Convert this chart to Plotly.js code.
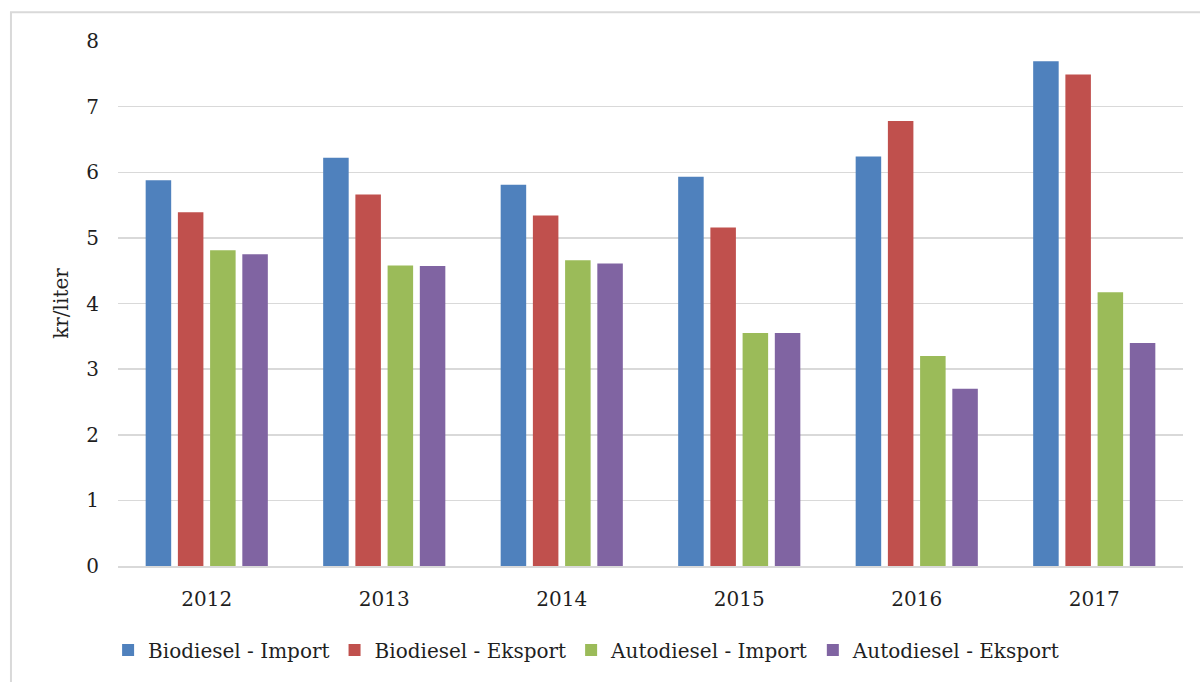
<!DOCTYPE html>
<html>
<head>
<meta charset="utf-8">
<script src="https://cdn.plot.ly/plotly-3.0.1.min.js"></script>
<style>html,body{margin:0;padding:0;background:#fff;}#chart{width:1200px;height:682px;}</style>
</head>
<body>
<div id="chart"></div>
<script>
const years = ['2012', '2013', '2014', '2015', '2016', '2017'];
const seriesNames = ['Biodiesel - Import', 'Biodiesel - Eksport', 'Autodiesel - Import', 'Autodiesel - Eksport'];
const biodieselImport = [5.88, 6.22, 5.81, 5.93, 6.24, 7.69];
const biodieselEksport = [5.39, 5.66, 5.34, 5.16, 6.78, 7.49];
const autodieselImport = [4.81, 4.58, 4.66, 3.55, 3.20, 4.17];
const autodieselEksport = [4.75, 4.57, 4.61, 3.55, 2.70, 3.40];
const colors = ['#4F81BD', '#C0504D', '#9BBB59', '#8064A2'];
const yTicks = [0, 1, 2, 3, 4, 5, 6, 7, 8];

const allSeries = [biodieselImport, biodieselEksport, autodieselImport, autodieselEksport];
const FONT = 'DejaVu Serif';
const data = allSeries.map((vals, i) => ({
  type: 'bar',
  name: seriesNames[i],
  x: years,
  y: vals,
  marker: {color: colors[i], line: {width: 0}},
  hoverinfo: 'x+y+name'
}));

const layout = {
  width: 1200, height: 682,
  margin: {l: 118, r: 17, t: 41, b: 114},
  paper_bgcolor: '#ffffff',
  plot_bgcolor: '#ffffff',
  font: {family: FONT, size: 20, color: '#1f1f1f'},
  barmode: 'group',
  bargap: 0.274,
  bargroupgap: 0.208,
  showlegend: true,
  legend: {
    orientation: 'h',
    x: 0.44, xanchor: 'center',
    y: -0.16, yanchor: 'middle',
    font: {family: FONT, size: 20, color: '#1f1f1f'},
    bgcolor: 'rgba(0,0,0,0)'
  },
  xaxis: {
    type: 'category',
    showgrid: false,
    showline: true, linecolor: '#d9d9d9', linewidth: 1.5,
    ticks: '',
    ticklabelstandoff: 14,
    tickfont: {family: FONT, size: 20, color: '#1f1f1f'},
    zeroline: false
  },
  yaxis: {
    range: [0, 8],
    tickvals: yTicks,
    ticktext: yTicks.map(String),
    showgrid: true, gridcolor: '#d9d9d9', gridwidth: 1.5,
    zeroline: false,
    showline: false,
    ticks: '',
    ticklabelstandoff: 18,
    tickfont: {family: FONT, size: 20, color: '#1f1f1f'},
    title: {text: 'kr/liter', font: {family: FONT, size: 20, color: '#1f1f1f'}, standoff: 12}
  },
  shapes: [{
    type: 'rect', xref: 'paper', yref: 'paper',
    x0: -0.1005, x1: 1.2, y0: -0.4, y1: 1.055,
    line: {color: '#d9d9d9', width: 2},
    fillcolor: 'rgba(0,0,0,0)',
    layer: 'below'
  }]
};

Plotly.newPlot('chart', data, layout, {displayModeBar: false, staticPlot: true});
</script>
</body>
</html>
